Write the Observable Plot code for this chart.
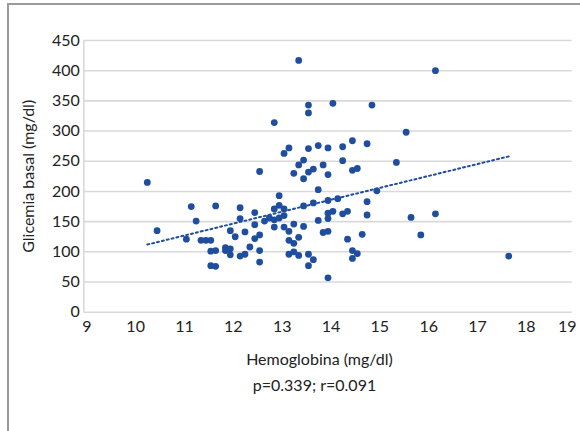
<!DOCTYPE html>
<html><head><meta charset="utf-8">
<script src="https://cdn.jsdelivr.net/npm/d3@7"></script>
<script src="https://cdn.jsdelivr.net/npm/@observablehq/plot@0.6"></script>
<style>
body{margin:0;background:#fff;}
#wrap{position:relative;width:580px;height:431px;overflow:hidden;background:#fff;}
#frame{position:absolute;left:6.5px;top:3px;width:700px;height:600px;border-left:2px solid #9b9b9b;border-top:2px solid #9b9b9b;}
#chart{position:absolute;left:0;top:0;}
</style></head>
<body><div id="wrap"><div id="frame"></div><div id="chart"></div></div>
<script>
const hemoglobina = [10.3,10.5,11.1,11.2,11.3,11.4,11.5,11.6,11.6,11.7,11.6,11.7,11.7,11.9,11.9,12.0,12.0,12.0,12.1,12.2,
  12.2,12.2,12.3,12.3,12.4,12.5,12.5,12.5,12.6,12.6,12.6,12.6,12.7,12.8,12.9,12.9,12.9,12.9,13.0,13.0,
  13.0,13.1,13.1,13.1,13.1,13.2,13.2,13.2,13.2,13.3,13.3,13.3,13.3,13.4,13.4,13.4,13.4,13.5,13.5,13.5,
  13.5,13.6,13.6,13.6,13.6,13.6,13.6,13.7,13.7,13.7,13.8,13.8,13.8,13.9,13.9,14.0,14.0,14.0,14.0,14.0,
  14.0,14.0,14.1,14.1,14.2,14.3,14.3,14.3,14.4,14.4,14.5,14.5,14.5,14.5,14.6,14.6,14.7,14.8,14.8,14.8,
  14.9,15.0,15.4,15.6,15.7,15.9,16.2,16.2,17.7];
const glicemia = [215,135,121,175,151,119,119,119,101,102,77,76,176,107,102,105,95,135,125,173,
  155,93,96,133,108,165,145,122,128,102,83,233,151,156,171,153,141,314,193,177,
  156,171,160,141,263,272,134,119,96,230,146,114,100,417,244,124,94,252,221,176,
  142,343,330,271,232,96,77,237,181,87,276,203,152,244,132,272,228,185,164,155,
  134,57,346,167,188,274,251,163,167,121,284,235,102,89,238,97,129,279,183,161,
  343,201,248,298,157,128,400,163,93];
const xTicks = [9,10,11,12,13,14,15,16,17,18,19];
const yTicks = [0,50,100,150,200,250,300,350,400,450];
const trendX = [10.3, 17.7];
const trendY = [112, 258];
const xLabel = "Hemoglobina (mg/dl)";
const yLabel = "Glicemia basal (mg/dl)";
const caption = "p=0.339; r=0.091";

const points = hemoglobina.map((h, i) => ({h, g: glicemia[i]}));
const trend = trendX.map((x, i) => ({x, y: trendY[i]}));
const blue = "#1F4E9E";

const chart = Plot.plot({
  width: 580, height: 420,
  marginLeft: 83.3, marginRight: 8.3, marginTop: 40, marginBottom: 108.3,
  style: {fontFamily: "Lato", fontSize: "16px", color: "#222", background: "transparent", overflow: "visible"},
  x: {domain: [9, 19]},
  y: {domain: [0, 450]},
  marks: [
    Plot.ruleY(yTicks, {stroke: "#d9d9d9", strokeWidth: 1.6}),
    Plot.ruleX([9], {stroke: "#d9d9d9", strokeWidth: 1.6}),
    Plot.axisX(xTicks.filter(t => t < 19), {tickSize: 0, tickPadding: 8, dx: 3, label: null, fontSize: 16}),
    Plot.axisX([19], {tickSize: 0, tickPadding: 8, dx: -5, label: null, fontSize: 16}),
    Plot.axisY(yTicks, {tickSize: 0, tickPadding: 4, label: null, fontSize: 16}),
    Plot.line(trend, {x: "x", y: "y", stroke: blue, strokeWidth: 2, strokeDasharray: "2,3"}),
    Plot.dot(points, {x: "h", y: "g", r: 3.4, fill: blue}),
    Plot.text([xLabel], {text: d => d, frameAnchor: "bottom", lineAnchor: "middle", textAnchor: "middle", dy: 47.3, dx: -8.5, fontSize: 16}),
    Plot.text([caption], {text: d => d, frameAnchor: "bottom", lineAnchor: "middle", textAnchor: "middle", dy: 73.6, dx: -13.5, fontSize: 16}),
    Plot.text([yLabel], {text: d => d, frameAnchor: "left", lineAnchor: "middle", textAnchor: "middle", rotate: -90, dx: -55.3, fontSize: 16})
  ]
});
document.getElementById("chart").appendChild(chart);
</script>
</body></html>
